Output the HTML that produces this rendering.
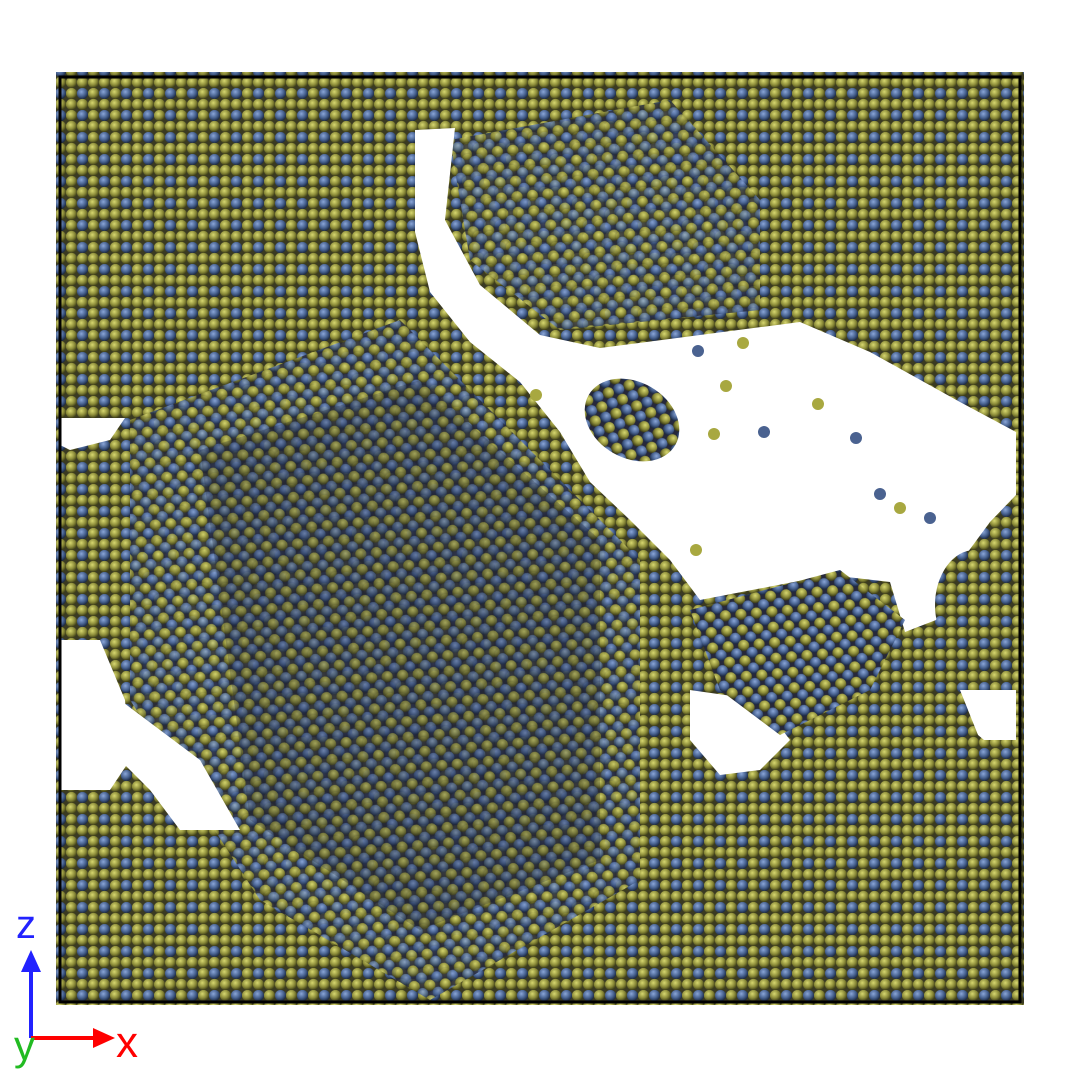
<!DOCTYPE html>
<html><head><meta charset="utf-8"><style>
html,body{margin:0;padding:0;background:#fff;}
svg{display:block;}
text{font-family:"Liberation Sans",sans-serif;}
</style></head><body>
<svg width="1080" height="1080" viewBox="0 0 1080 1080">
<defs>
<radialGradient id="go" cx="40%" cy="35%" r="65%"><stop offset="0" stop-color="#d8d870"/><stop offset="0.6" stop-color="#8a8a38"/><stop offset="1" stop-color="#3e3e18"/></radialGradient>
<radialGradient id="gb" cx="40%" cy="35%" r="65%"><stop offset="0" stop-color="#8aa6d8"/><stop offset="0.6" stop-color="#46608e"/><stop offset="1" stop-color="#1c2a44"/></radialGradient>
<pattern id="atoms" width="22" height="22" patternUnits="userSpaceOnUse">
<rect width="22" height="22" fill="#3a3a22"/>
<circle cx="5.5" cy="5.5" r="5.6" fill="url(#go)"/>
<circle cx="16.5" cy="5.5" r="5.6" fill="url(#gb)"/>
<circle cx="5.5" cy="16.5" r="5.6" fill="url(#go)"/>
<circle cx="16.5" cy="16.5" r="5.6" fill="url(#go)"/>
</pattern>
<pattern id="atoms2" width="22" height="22" patternUnits="userSpaceOnUse" patternTransform="rotate(40)">
<rect width="22" height="22" fill="#26283a"/>
<circle cx="5.5" cy="5.5" r="5.6" fill="url(#go)"/>
<circle cx="16.5" cy="5.5" r="5.6" fill="url(#gb)"/>
<circle cx="5.5" cy="16.5" r="5.6" fill="url(#gb)"/>
<circle cx="16.5" cy="16.5" r="5.6" fill="url(#go)"/>
</pattern>
</defs>
<rect width="1080" height="1080" fill="#fff"/>
<rect x="55" y="72" width="970" height="935" fill="url(#atoms)"/>
<polygon points="130,420 400,320 560,480 640,560 640,880 430,1000 260,900 130,700" fill="url(#atoms2)" opacity="0.85"/>
<polygon points="200,450 420,380 600,540 600,860 420,930 250,820" fill="#1a2030" opacity="0.25"/>
<polygon points="450,140 670,100 760,200 760,310 560,330 470,260" fill="url(#atoms2)" opacity="0.8"/>
<g fill="#fff">
<polygon points="415,130 455,128 445,220 480,285 540,335 600,348 700,335 800,322 870,352 960,402 1016,432 1016,495 990,522 962,560 936,620 905,632 890,582 830,575 700,600 670,560 630,520 590,482 560,432 520,382 470,342 430,292 415,232"/>
<polygon points="60,418 125,418 110,440 70,450 60,445"/>
<polygon points="60,640 100,640 125,700 130,760 110,790 60,790"/>
<polygon points="120,700 200,760 240,830 180,830 150,790 120,760"/>
<polygon points="690,690 760,700 790,740 760,770 720,775 690,740"/>
<polygon points="960,690 1016,690 1016,740 980,740"/>
<rect x="0" y="0" width="1080" height="72"/>
<rect x="0" y="1005" width="1080" height="75"/>
<rect x="0" y="0" width="56" height="1080"/>
<rect x="1024" y="0" width="56" height="1080"/>
</g>
<ellipse cx="632" cy="420" rx="50" ry="38" fill="url(#atoms2)" transform="rotate(30 632 420)"/>
<polygon points="690,610 840,570 905,620 870,690 780,735 720,690" fill="url(#atoms2)"/>
<ellipse cx="975" cy="605" rx="40" ry="55" fill="url(#atoms)"/>
<polygon points="790,760 880,710 960,720 1020,770 1020,1003 690,1003 700,880" fill="url(#atoms)"/>
<g fill="#4a6290">
<circle cx="698" cy="351" r="6"/><circle cx="764" cy="432" r="6"/><circle cx="856" cy="438" r="6"/><circle cx="880" cy="494" r="6"/><circle cx="930" cy="518" r="6"/>
</g>
<g fill="#a8a840">
<circle cx="743" cy="343" r="6"/><circle cx="726" cy="386" r="6"/><circle cx="818" cy="404" r="6"/><circle cx="714" cy="434" r="6"/><circle cx="900" cy="508" r="6"/><circle cx="536" cy="395" r="6"/><circle cx="696" cy="550" r="6"/>
</g>
<rect x="60" y="77" width="960" height="925" fill="none" stroke="#000" stroke-width="3"/>
<g>
<line x1="31" y1="1038" x2="31" y2="968" stroke="#2222ff" stroke-width="4"/>
<polygon points="21,972 41,972 31,950" fill="#2222ff"/>
<line x1="31" y1="1038" x2="95" y2="1038" stroke="#ff0000" stroke-width="4"/>
<polygon points="93,1028 93,1048 115,1038" fill="#ff0000"/>
<text x="16" y="938" font-size="40" fill="#2222ff">z</text>
<text x="116" y="1057" font-size="44" fill="#ff0000">x</text>
<text x="14" y="1060" font-size="42" fill="#22bb22">y</text>
</g>
</svg>
</body></html>
